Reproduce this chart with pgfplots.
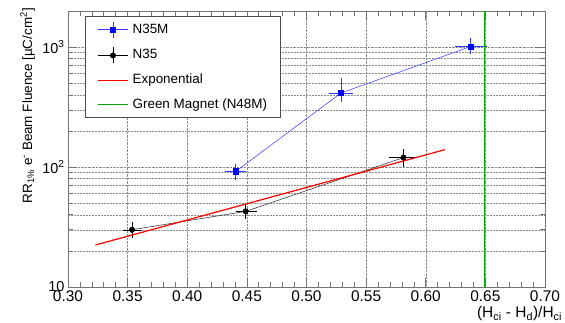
\documentclass[border=0pt]{standalone}
\usepackage{fontspec}
\setmainfont{Liberation Sans}
\usepackage{pgfplots}
\pgfplotsset{compat=1.18}
\definecolor{rootgreen}{RGB}{0,170,0}
\begin{document}
\begin{tikzpicture}[x=1bp,y=1bp]
\begin{axis}[
  at={(0,0)}, anchor=south west, scale only axis,
  width=477bp, height=276bp,
  font=\fontsize{13.5}{16}\selectfont,
  xmin=0.3, xmax=0.7, ymode=log, ymin=10, ymax=2000,
  xtick={0.30,0.35,0.40,0.45,0.50,0.55,0.60,0.65,0.70},
  minor x tick num=4,
  ytick={10,100,1000},
  yticklabels={10,10\textsuperscript{2},10\textsuperscript{3}},
  minor ytick={20,30,40,50,60,70,80,90,200,300,400,500,600,700,800,900},
  xticklabel style={font=\fontsize{15.5}{18}\selectfont, /pgf/number format/.cd, fixed, fixed zerofill, precision=2, assume math mode=true},
  yticklabel style={font=\fontsize{14.5}{17}\selectfont},
  xmajorgrids, ymajorgrids, yminorgrids,
  grid style={black!45, densely dotted, line width=0.5bp},
  minor grid style={black!45, densely dotted, line width=0.5bp},
  axis line style={black!55, line width=0.8bp},
  tick style={black!55, line width=0.6bp},
  major tick length=9bp, minor tick length=5bp,
  tick align=inside,
  xlabel={(H\textsubscript{ci} - H\textsubscript{d})/H\textsubscript{ci}},
  xlabel style={font=\fontsize{15.5}{18}\selectfont, at={(axis description cs:1.036,0)}, anchor=north east, yshift=-19bp, inner sep=0pt},
  ylabel={RR\textsubscript{1\%} e\textsuperscript{-} Beam Fluence [µC/cm\textsuperscript{2}]},
  ylabel style={at={(axis description cs:-0.069,1.011)}, anchor=south east, inner sep=0pt},
  legend style={at={(axis description cs:0.0356,0.982)}, anchor=north west,
    draw=black!70, line width=0.8bp, fill=white,
    inner xsep=12bp, inner ysep=5bp, row sep=9.2bp, column sep=3bp,
    nodes={inner sep=1bp, text height=10bp, text depth=3bp, anchor=west},
    cells={anchor=west}},
  legend cell align=left,
]
\addplot[color=blue!70, line width=0.6bp, mark=square*, mark size=2.6bp,
  mark options={solid, fill=blue, draw=blue},
  legend image code/.code={
    \draw[blue!80, line width=0.6bp] (0bp,0bp) -- (30bp,0bp);
    \draw[blue!80, line width=0.6bp] (15bp,-8bp) -- (15bp,8bp);
    \fill[blue] (12.5bp,-2.5bp) rectangle (17.5bp,2.5bp);
  },
  error bars/.cd, x dir=both, x explicit, y dir=both, y explicit,
  error bar style={blue!80, line width=0.5bp}, error mark=none]
coordinates {
  (0.4406,92)   += (0.0083,14)  -= (0.0089,14)
  (0.5289,414)  += (0.0100,142) -= (0.0100,67)
  (0.6375,1010) += (0.0135,170) -= (0.0130,140)
};
\addlegendentry{N35M}
\addplot[color=black!75, line width=0.6bp, mark=*, mark size=2.7bp,
  mark options={solid, fill=black, draw=black},
  legend image code/.code={
    \draw[black, line width=0.6bp] (0bp,0bp) -- (30bp,0bp);
    \draw[black, line width=0.6bp] (15bp,-8bp) -- (15bp,8bp);
    \fill[black] (15bp,0bp) circle (2.7bp);
  },
  error bars/.cd, x dir=both, x explicit, y dir=both, y explicit,
  error bar style={black, line width=0.5bp}, error mark=none]
coordinates {
  (0.3537,30)   += (0.0080,4.5) -= (0.0074,4.4)
  (0.4490,42.7) += (0.0096,6.8) -= (0.0077,5.8)
  (0.5814,120)  += (0.0096,21)  -= (0.0121,19)
};
\addlegendentry{N35}
\addplot[color=red, line width=1.2bp, no marks,
  legend image code/.code={\draw[red, line width=1.2bp] (0bp,0bp) -- (30bp,0bp);}]
coordinates {(0.323,22.4) (0.40,36.2) (0.50,67.6) (0.616,139.6)};
\addlegendentry{Exponential}
\addplot[color=rootgreen, line width=1.2bp, no marks,
  legend image code/.code={\draw[rootgreen, line width=1.2bp] (0bp,0bp) -- (30bp,0bp);}]
coordinates {(0.649,10) (0.649,2000)};
\addlegendentry{Green Magnet (N48M)}
\end{axis}
\pgfresetboundingbox
\path[use as bounding box] (-68bp,-36bp) rectangle (497bp,287bp);
\end{tikzpicture}
\end{document}
